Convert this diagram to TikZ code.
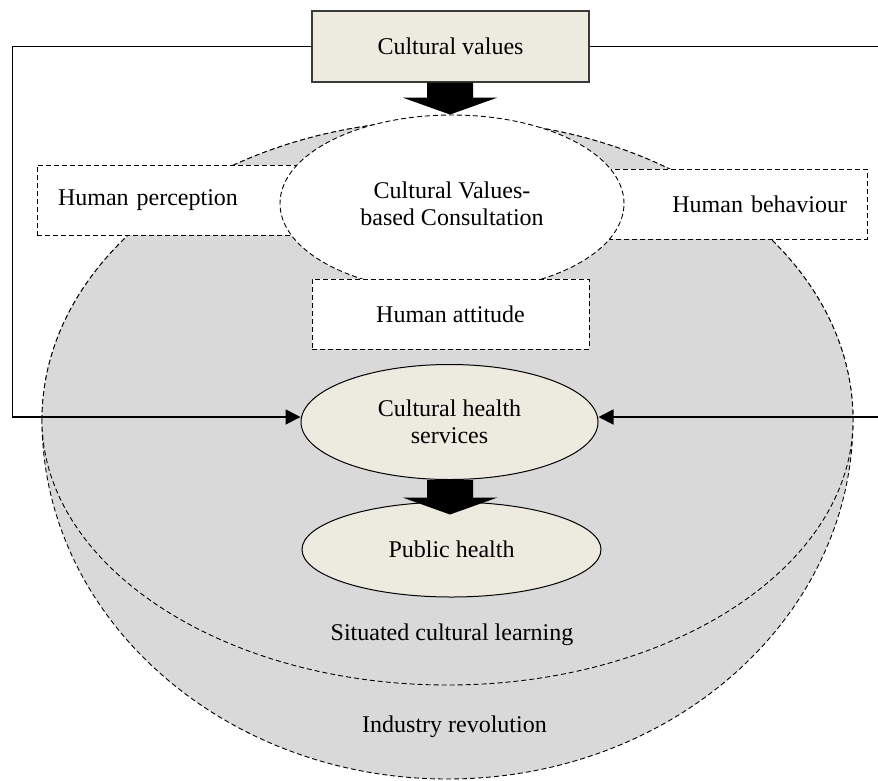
\documentclass[tikz,border=0pt]{standalone}
\usepackage{fontspec}
\setmainfont{Liberation Serif}
\usetikzlibrary{shapes.geometric,arrows.meta,calc}
\definecolor{beige}{HTML}{EDEBE0}
\definecolor{zone}{HTML}{D9D9D9}
\definecolor{frame}{HTML}{3A3A3A}
\tikzset{
  txt/.style={font=\fontsize{24}{27.5}\selectfont, align=center},
  dashline/.style={dash pattern=on 5pt off 3pt, line width=0.9pt},
  dashbox/.style={txt, draw, dashline, fill=white, rectangle, inner sep=0pt},
  solidell/.style={txt, draw, line width=1pt, fill=beige, ellipse, inner sep=0pt},
  conn/.style={line width=1pt},
  arrconn/.style={line width=1.8pt, -{Triangle[length=15pt,width=15pt]}},
  zoneline/.style={dashline, fill=zone}
}
\newcommand\blockarrow[2]{%
  \fill let \p1=(#1), \p2=(#2) in
    (\x1-23pt,\y1) -- (\x1+23pt,\y1) -- (\x1+23pt,\y2+17pt) -- (\x1+47.5pt,\y2+17pt)
    -- (\x1,\y2) -- (\x1-47.5pt,\y2+17pt) -- (\x1-23pt,\y2+17pt) -- cycle;}
\begin{document}
\begin{tikzpicture}[x=1pt,y=1pt]
\useasboundingbox (0,0) rectangle (878,-780);
\clip (0,0) rectangle (878,-780);
% zones
\filldraw[zoneline] (42,-420) arc[start angle=180,end angle=0,x radius=405.5,y radius=300]
  arc[start angle=0,end angle=-180,x radius=405.5,y radius=359] -- cycle;
\filldraw[zoneline] (42,-420) arc[start angle=180,end angle=0,x radius=405.5,y radius=300]
  arc[start angle=0,end angle=-180,x radius=405.5,y radius=265] -- cycle;
\node[txt] (scl) at (452,-635) {Situated cultural learning};
\node[txt] (ir) at (454.5,-727) {Industry revolution};
% side boxes
\node[dashbox, minimum height=70pt, text width=218pt, inner xsep=21pt, align=left] (hp) at (167,-200) {Human perception};
\node[dashbox, minimum height=70pt, text width=219pt, inner xsep=20pt, align=right] (hb) at (737.5,-204) {Human behaviour};
% consultation
\node[txt, draw, dashline, fill=white, ellipse, inner sep=0pt, minimum width=344pt, minimum height=177pt] (cvc) at (452,-203.5) {Cultural Values-\\[-0.5pt]based Consultation};
\node[dashbox, minimum width=277pt, minimum height=70pt] (ha) at (450.5,-314) {Human attitude};
% top box
\node[txt, draw=frame, line width=1.2pt, fill=beige, rectangle, minimum width=277pt, minimum height=71pt] (cv) at (450.5,-46.5) {Cultural values};
% health ellipses
\node[solidell, minimum width=297pt, minimum height=115pt] (chs) at (449.5,-422) {Cultural health\\services};
\node[solidell, minimum width=299pt, minimum height=95pt] (ph) at (451.5,-549.5) {Public health};
% connectors
\coordinate (lc) at (12,-417);
\coordinate (rc) at (881,-417);
\draw[conn] (cv.west) -| (lc);
\draw[arrconn] (lc) -- (lc -| chs.west);
\draw[conn] (cv.east) -| (rc);
\draw[arrconn] (rc) -- (rc -| chs.east);
% block arrows
\coordinate (a1s) at ($(cv.south)+(-0.5,0)$);
\blockarrow{a1s}{cvc.north}
\coordinate (a2s) at ($(chs.south)+(0.5,0)$);
\coordinate (a2t) at ($(ph.north)+(-1.5,-13)$);
\blockarrow{a2s}{a2t}
\end{tikzpicture}
\end{document}
